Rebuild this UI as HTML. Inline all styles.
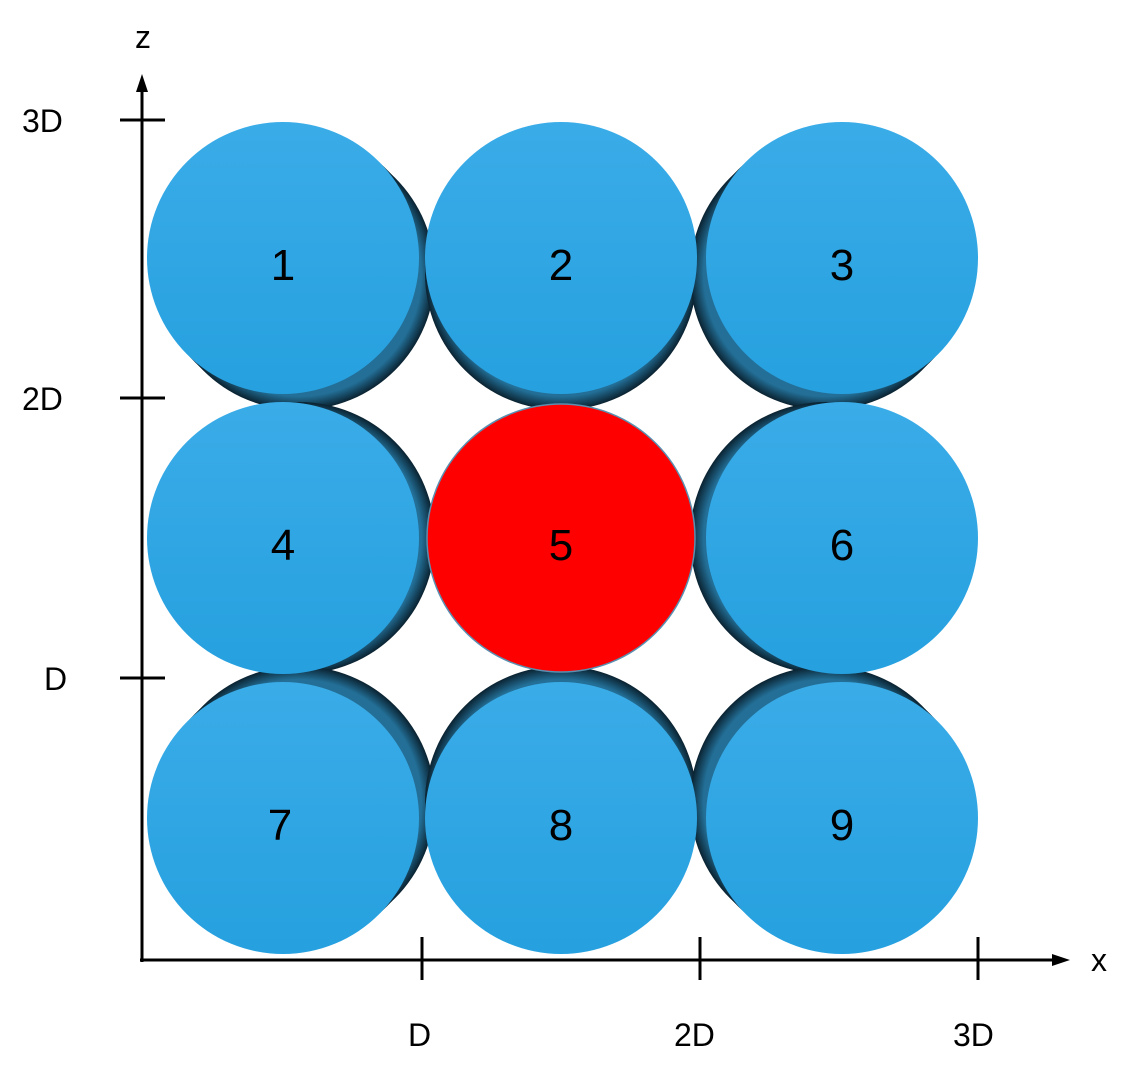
<!DOCTYPE html>
<html><head><meta charset="utf-8"><style>
html,body{margin:0;padding:0;background:#fff;width:1132px;height:1080px;overflow:hidden}
text{font-family:"Liberation Sans",sans-serif;}
</style></head><body>
<svg width="1132" height="1080" viewBox="0 0 1132 1080" xmlns="http://www.w3.org/2000/svg">
<defs>
<radialGradient id="sd" cx="50%" cy="50%" r="50%">
<stop offset="0.9" stop-color="#236f97"/><stop offset="1" stop-color="#0a2230"/>
</radialGradient>
<linearGradient id="bl" x1="0" y1="0" x2="0" y2="1">
<stop offset="0" stop-color="#3aace8"/><stop offset="1" stop-color="#26a0df"/>
</linearGradient>
</defs>
<g fill="url(#sd)">
<circle cx="291" cy="266" r="136"/><circle cx="299" cy="274" r="136"/>
<circle cx="561" cy="266" r="136"/><circle cx="561" cy="274" r="136"/>
<circle cx="834" cy="266" r="136"/><circle cx="826" cy="274" r="136"/>
<circle cx="291" cy="538" r="136"/><circle cx="299" cy="538" r="136"/>
<circle cx="834" cy="538" r="136"/><circle cx="826" cy="538" r="136"/>
<circle cx="291" cy="810" r="136"/><circle cx="299" cy="802" r="136"/>
<circle cx="561" cy="810" r="136"/><circle cx="561" cy="802" r="136"/>
<circle cx="834" cy="810" r="136"/><circle cx="826" cy="802" r="136"/>
</g>
<g fill="url(#bl)">
<circle cx="283" cy="258" r="136"/>
<circle cx="561" cy="258" r="136"/>
<circle cx="842" cy="258" r="136"/>
<circle cx="283" cy="538" r="136"/>
<circle cx="842" cy="538" r="136"/>
<circle cx="283" cy="818" r="136"/>
<circle cx="561" cy="818" r="136"/>
<circle cx="842" cy="818" r="136"/>
</g>
<circle cx="561" cy="538" r="134" fill="#ff0000" stroke="#5a8fb0" stroke-width="1.5"/>
<g font-size="44" text-anchor="middle" fill="#000">
<text x="283" y="280">1</text><text x="561" y="280">2</text><text x="842" y="280">3</text>
<text x="283" y="560">4</text><text x="561" y="560">5</text><text x="842" y="560">6</text>
<text x="280" y="840">7</text><text x="561" y="840">8</text><text x="842" y="840">9</text>
</g>
<g stroke="#000" stroke-width="3" fill="none">
<line x1="142" y1="962" x2="142" y2="88"/>
<line x1="140" y1="960" x2="1056" y2="960"/>
<line x1="120" y1="120" x2="165" y2="120"/>
<line x1="120" y1="398" x2="165" y2="398"/>
<line x1="120" y1="678" x2="165" y2="678"/>
<line x1="422" y1="937" x2="422" y2="980"/>
<line x1="700" y1="937" x2="700" y2="980"/>
<line x1="978" y1="937" x2="978" y2="980"/>
</g>
<polygon points="142,74 136,92 148,92" fill="#000"/>
<polygon points="1070,960 1052,954 1052,966" fill="#000"/>
<g font-size="32" fill="#000">
<text x="135" y="48">z</text>
<text x="1091" y="971">x</text>
<text x="22" y="132">3D</text>
<text x="22" y="410">2D</text>
<text x="44" y="690">D</text>
<text x="408" y="1046">D</text>
<text x="674" y="1046">2D</text>
<text x="953" y="1046">3D</text>
</g>
</svg>
</body></html>
